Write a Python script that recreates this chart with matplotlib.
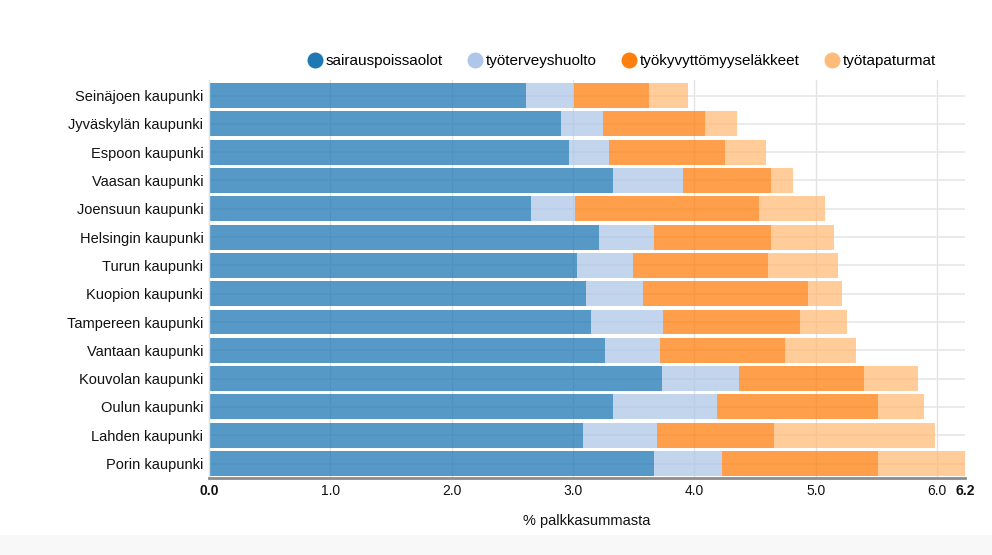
import numpy as np
import matplotlib
matplotlib.use("Agg")
from matplotlib import pyplot as plt
from matplotlib.lines import Line2D
from matplotlib.patches import Rectangle

plt.rcParams['font.family'] = ['Liberation Sans', 'DejaVu Sans']

cities = ["Seinäjoen kaupunki", "Jyväskylän kaupunki", "Espoon kaupunki", "Vaasan kaupunki",
          "Joensuun kaupunki", "Helsingin kaupunki", "Turun kaupunki", "Kuopion kaupunki",
          "Tampereen kaupunki", "Vantaan kaupunki", "Kouvolan kaupunki", "Oulun kaupunki",
          "Lahden kaupunki", "Porin kaupunki"]
series = ["sairauspoissaolot", "työterveyshuolto", "työkyvyttömyyseläkkeet", "työtapaturmat"]
sairaus = [2.61, 2.90, 2.97, 3.33, 2.65, 3.21, 3.03, 3.11, 3.15, 3.26, 3.73, 3.33, 3.08, 3.67]
terveys = [0.40, 0.35, 0.33, 0.58, 0.37, 0.46, 0.46, 0.47, 0.59, 0.46, 0.64, 0.86, 0.61, 0.56]
elake = [0.62, 0.84, 0.95, 0.72, 1.51, 0.96, 1.12, 1.36, 1.13, 1.03, 1.03, 1.32, 0.97, 1.28]
tapaturma = [0.32, 0.26, 0.34, 0.18, 0.55, 0.52, 0.57, 0.28, 0.39, 0.58, 0.44, 0.38, 1.32, 0.72]
colors = ["#1f77b4", "#aec7e8", "#ff7f0e", "#ffbb78"]

totals = np.array(sairaus) + np.array(terveys) + np.array(elake) + np.array(tapaturma)
xmax = totals.max()
xticks = [0.0, 1.0, 2.0, 3.0, 4.0, 5.0, 6.0, xmax]

W, H = 992, 555
fig = plt.figure(figsize=(W / 100, H / 100), dpi=100)
fig.patches.append(Rectangle((0, 0), 1, 20 / H, transform=fig.transFigure,
                             facecolor="#f8f8f8", edgecolor="none", zorder=-10))
ax = fig.add_axes([209 / W, 1 - 478 / H, 756 / W, 398 / H])

y = np.arange(len(cities))
left = np.zeros(len(cities))
for vals, c in zip([sairaus, terveys, elake, tapaturma], colors):
    ax.barh(y, vals, left=left, height=0.88, color=c, alpha=0.75, linewidth=0, zorder=2)
    left += np.array(vals)

ax.set_ylim(13.51, -0.55)
ax.set_xlim(0, xmax)
ax.set_yticks(y)
ax.set_yticklabels(cities, fontsize=10.5, color="#111111")
ax.set_xticks(xticks)
labels = ax.set_xticklabels(["%.1f" % v for v in xticks], fontsize=10, color="#111111")
labels[0].set_fontweight("bold")
labels[-1].set_fontweight("bold")
ax.tick_params(length=0, pad=4)
ax.tick_params(axis="y", pad=4)

for v in xticks[1:-1]:
    ax.axvline(v, color="#e3e3e3", lw=1.0, zorder=1)
for yy in y:
    ax.axhline(yy, color="#e6e6e6", lw=1.2, zorder=1)

for s in ["top", "right"]:
    ax.spines[s].set_visible(False)
ax.spines["left"].set_color("#e0e0e0")
ax.spines["left"].set_linewidth(1.0)
ax.spines["bottom"].set_color("#8c8c8c")
ax.spines["bottom"].set_linewidth(2.0)

ax.set_xlabel("% palkkasummasta", fontsize=10.5, color="#111111", labelpad=12)

handles = [Line2D([], [], marker="o", linestyle="none", markersize=10.5,
                  markerfacecolor=c, markeredgecolor=c) for c in colors]
fig.legend(handles, series, loc="center right", bbox_to_anchor=(950 / W, 1 - 61 / H),
           ncol=4, frameon=False, fontsize=11, handletextpad=0.12,
           columnspacing=1.55, handlelength=1.15)

fig.savefig("out.png", dpi=100)
